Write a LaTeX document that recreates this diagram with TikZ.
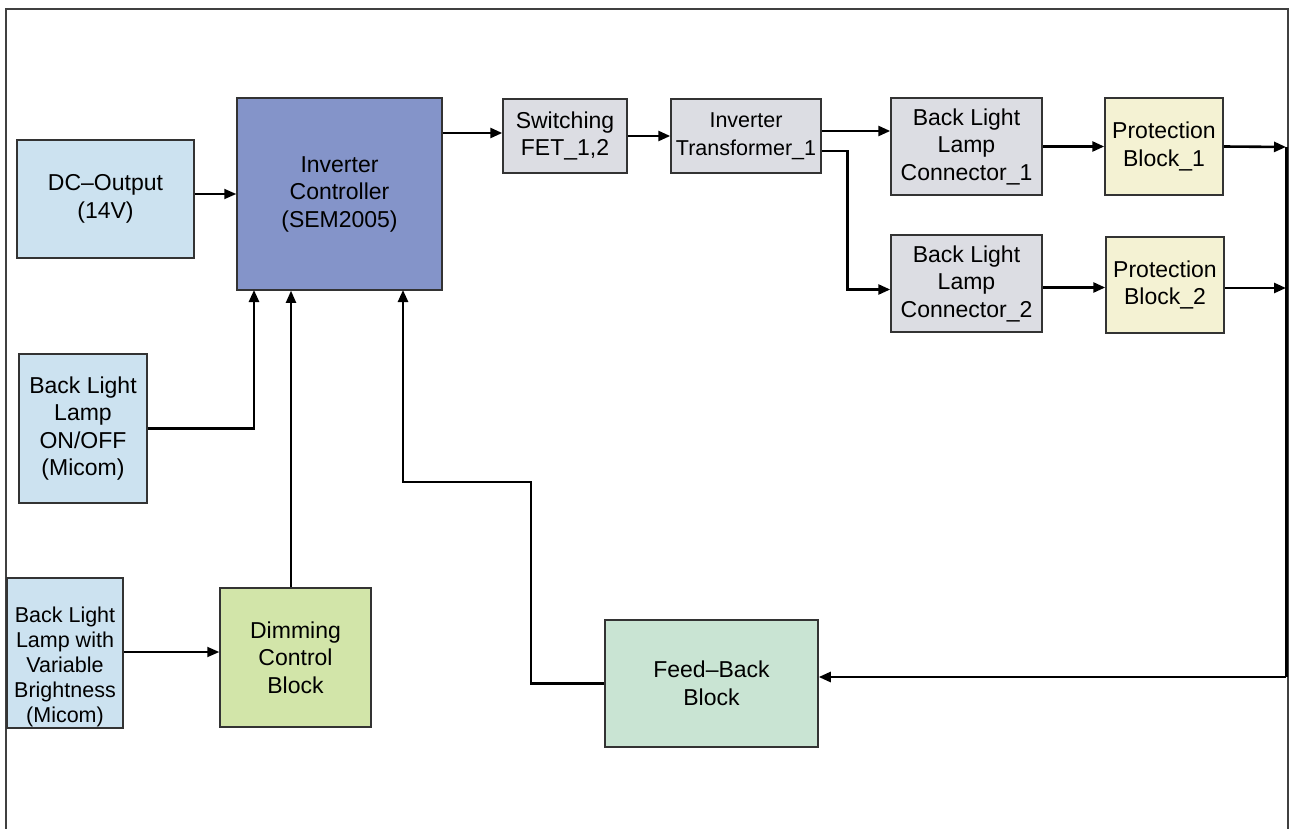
\documentclass[tikz,border=0pt]{standalone}
\usepackage{fontspec}
\setmainfont{Liberation Sans}
\usetikzlibrary{arrows.meta}
\definecolor{cblue}{HTML}{CCE2F0}
\definecolor{cctrl}{HTML}{8494C9}
\definecolor{cgray}{HTML}{DCDDE3}
\definecolor{cprot}{HTML}{F4F2D3}
\definecolor{cdim}{HTML}{D2E5A9}
\definecolor{cfb}{HTML}{C9E4D3}
\definecolor{cedge}{HTML}{333333}
\tikzset{
  blk/.style={draw=cedge, line width=1.5pt, inner sep=0pt, align=center,
    font=\fontsize{23}{27.5}\selectfont},
  arr/.style={line width=2.6pt, -{Triangle[length=12pt,width=10pt]}},
  ln/.style={line width=2.6pt},
  frm/.style={draw=black!75, line width=1.4pt}
}
\begin{document}
\begin{tikzpicture}[x=1pt,y=-1pt]
\useasboundingbox (0,0) rectangle (1290,829);
\draw[frm] (6,829) -- (6,9) -- (1288,9) -- (1288,829);

\node[blk, fill=cblue, minimum width=177pt, minimum height=118pt] (dc) at (105.5,199) {DC--Output\\(14V)};
\node[blk, fill=cctrl, minimum width=205pt, minimum height=192pt] (ctrl) at (339.5,194) {Inverter\\Controller\\(SEM2005)};
\node[blk, fill=cgray, minimum width=124pt, minimum height=74pt] (sw) at (565,136) {Switching\\FET\_1,2};
\node[blk, fill=cgray, minimum width=150pt, minimum height=74pt, font=\fontsize{21.5}{27.5}\selectfont] (tr) at (746,136) {Inverter\\Transformer\_1};
\node[blk, fill=cgray, minimum width=151pt, minimum height=97pt] (blc1) at (966.5,146.5) {Back Light\\Lamp\\Connector\_1};
\node[blk, fill=cgray, minimum width=151pt, minimum height=97pt] (blc2) at (966.5,283.5) {Back Light\\Lamp\\Connector\_2};
\node[blk, fill=cprot, minimum width=118pt, minimum height=97pt] (p1) at (1164,146.5) {Protection\\Block\_1};
\node[blk, fill=cprot, minimum width=118pt, minimum height=96pt] (p2) at (1165,285) {Protection\\Block\_2};
\node[blk, fill=cblue, minimum width=128pt, minimum height=149pt] (onoff) at (83,428.5) {Back Light\\Lamp\\ON/OFF\\(Micom)};
\node[blk, fill=cdim, minimum width=151pt, minimum height=139pt] (dim) at (295.5,657.5) {Dimming\\Control\\Block};
\node[blk, fill=cblue, minimum width=116pt, minimum height=150pt] (vb) at (65,653) {};
\node[align=center, inner sep=0pt, font=\fontsize{21.5}{25}\selectfont] (vbt) at (65,667) {Back Light\\Lamp with\\Variable\\Brightness\\(Micom)};
\node[blk, fill=cfb, minimum width=213pt, minimum height=127pt] (fb) at (711.5,683.5) {Feed--Back\\Block};

\coordinate (busTop) at (1286,147);
\coordinate (busBot) at (1286,677);
\coordinate (c1) at (254,290);
\coordinate (c3) at (403,290);
\coordinate (fbk) at (531,482);

\draw[arr, line width=1.8pt] ([yshift=5pt]dc.east) -- ([yshift=5pt]dc.east -| ctrl.west);
\draw[arr] ([yshift=3pt]sw.west -| ctrl.east) -- ([yshift=3pt]sw.west);
\draw[arr] (sw.east) -- (tr.west);
\draw[arr] ([yshift=5pt]tr.east) -- ([yshift=5pt]tr.east -| blc1.west);
\draw[arr] ([yshift=-15pt]tr.east) -- ++(26,0) |- ([yshift=-6pt]blc2.west);
\draw[arr] (blc1.east) -- (p1.west);
\draw[arr] ([yshift=-4pt]blc2.east) -- ([yshift=-4pt]blc2.east -| p2.west);
\draw[arr] (p1.east) -- (busTop);
\draw[arr] ([yshift=-3pt]p2.east) -- ([yshift=-3pt]p2.east -| busTop);
\draw[ln, line width=3pt] (busTop) -- (busBot);
\draw[arr] (busBot) -- (busBot -| fb.east);
\draw[arr] (fb.west) -| (fbk) -| (c3);
\draw[arr] (onoff.east) -| (c1);
\draw[arr, line width=1.8pt] ([xshift=-4.5pt]dim.north) -- ([xshift=-4.5pt]dim.north |- ctrl.south);
\draw[arr, line width=1.8pt] ([yshift=1pt]vb.east) -- ([yshift=1pt]vb.east -| dim.west);
\end{tikzpicture}
\end{document}
